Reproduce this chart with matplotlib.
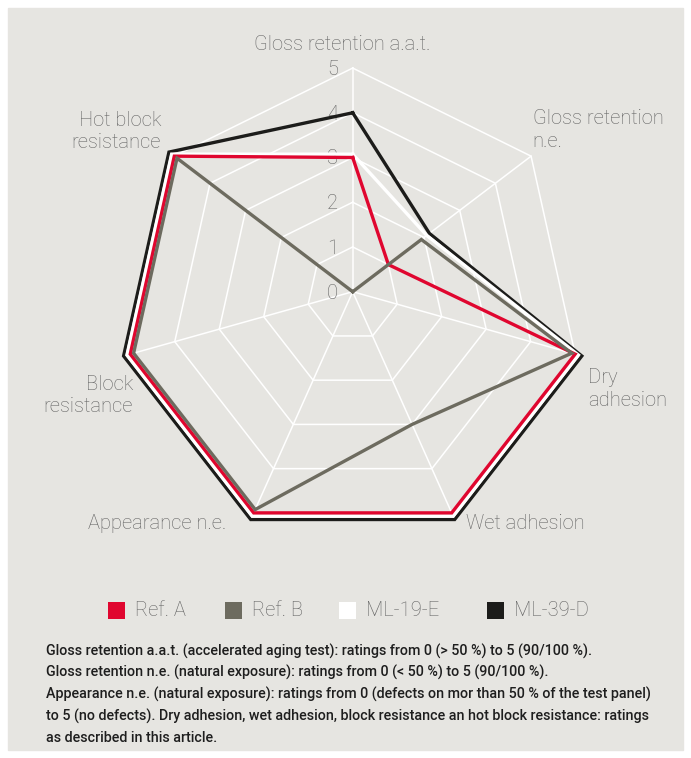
import matplotlib
matplotlib.use("Agg")
import matplotlib.pyplot as plt
import numpy as np
from matplotlib.patches import Rectangle

# --- data ---------------------------------------------------------------
categories = ["Gloss retention a.a.t.", "Gloss retention\nn.e.", "Dry\nadhesion",
              "Wet adhesion", "Appearance n.e.", "Block\nresistance",
              "Hot block\nresistance"]
series_names = ["Ref. A", "Ref. B", "ML-19-E", "ML-39-D"]
ref_a = [3, 1, 5, 5, 5, 5, 5]
ref_b = [0, 2, 5, 3, 5, 5, 5]
ml_19_e = [3, 2, 5, 5, 5, 5, 5]
ml_39_d = [4, 2, 5, 5, 5, 5, 5]
rating_ticks = [0, 1, 2, 3, 4, 5]
notes = [
    "Gloss retention a.a.t. (accelerated aging test): ratings from 0 (> 50 %) to 5 (90/100 %).",
    "Gloss retention n.e. (natural exposure): ratings from 0 (< 50 %) to 5 (90/100 %).",
    "Appearance n.e. (natural exposure): ratings from 0 (defects on mor than 50 % of the test panel)",
    "to 5 (no defects). Dry adhesion, wet adhesion, block resistance an hot block resistance: ratings",
    "as described in this article.",
]

# --- style --------------------------------------------------------------
BG = "#e6e5e1"
LABEL = "#626262"
colors = {"Ref. A": "#e0062f", "Ref. B": "#6d6b5f", "ML-19-E": "#ffffff", "ML-39-D": "#1c1c1a"}
# small radial shift so outlines that share a value sit side by side
shift = {"Ref. A": 0.0, "Ref. B": -0.075, "ML-19-E": 0.075, "ML-39-D": 0.15}
draw_order = ["ML-39-D", "ML-19-E", "Ref. A", "Ref. B"]
values = dict(zip(series_names, [ref_a, ref_b, ml_19_e, ml_39_d]))
light = dict(family="Roboto", weight="light", color=LABEL)
FS = 14.5

W, H = 691, 758
fig = plt.figure(figsize=(W / 100, H / 100), dpi=100, facecolor="white")
fig.patches.append(Rectangle((8 / W, 8 / H), (W - 16) / W, (H - 16) / H,
                             transform=fig.transFigure, color=BG, zorder=-5))

# radar axes: 1 rating unit = 45 px, spoke origin at (352.7, 291.7) px
ox, oy, s = 352.7, 291.7, 45.0
x0, x1, y0, y1 = 20, 680, 20, 570
ax = fig.add_axes([x0 / W, 1 - y1 / H, (x1 - x0) / W, (y1 - y0) / H], zorder=1)
ax.set_xlim((x0 - ox) / s, (x1 - ox) / s)
ax.set_ylim((oy - y1) / s, (oy - y0) / s)
ax.axis("off")

n = len(categories)
theta = 2 * np.pi * np.arange(n) / n
# the grid is a slightly stretched heptagon whose centre sits below the spoke origin
outer = np.c_[5.07 * np.sin(theta), -0.23 + 5.2 * np.cos(theta)]
table = np.array([values[k] for k in series_names], dtype=float)


def to_xy(vals, off=0.0):
    v = np.asarray(vals, dtype=float)
    shared = (table == v).sum(axis=0) > 1
    r = np.where((v > 0) & shared, v + off, v) / 5.0
    pts = outer * r[:, None]
    return np.vstack([pts, pts[:1]])


for k in rating_ticks[1:]:
    ring = np.vstack([outer, outer[:1]]) * k / 5
    ax.plot(ring[:, 0], ring[:, 1], color="white", lw=1.1, zorder=1)
for px, py in outer:
    ax.plot([0, px], [0, py], color="white", lw=1.1, zorder=1)

for k in rating_ticks:
    ax.text(-0.33, outer[0, 1] * k / 5 - 0.03, str(k), ha="right", va="center",
            fontsize=FS, zorder=2, **light)

for z, name in enumerate(draw_order):
    pts = to_xy(values[name], shift[name])
    ax.plot(pts[:, 0], pts[:, 1], color=colors[name], lw=2.4,
            solid_joinstyle="miter", zorder=3 + z)

label_pos = [(-0.24, 5.50, "center"), (4.0, 3.59, "left"), (5.23, -2.16, "left"),
             (2.52, -5.16, "left"), (-2.82, -5.16, "right"), (-4.88, -2.31, "right"),
             (-4.26, 3.56, "right")]
for cat, (lx, ly, ha) in zip(categories, label_pos):
    ax.text(lx, ly, cat, ha=ha, va="center", fontsize=FS, linespacing=1.22, **light)

# legend
sq_x = [108, 225, 339, 487]
for name, lx in zip(series_names, sq_x):
    fig.patches.append(Rectangle((lx / W, 1 - 619 / H), 17 / W, 17 / H,
                                 transform=fig.transFigure, facecolor=colors[name],
                                 edgecolor="none", zorder=2))
    fig.text((lx + 27) / W, 1 - 610 / H, name, ha="left", va="center",
             fontsize=FS, **light)

# notes
for i, line in enumerate(notes):
    fig.text(46 / W, 1 - (651 + 21.7 * i) / H, line, ha="left", va="center",
             fontsize=10.3, family="Roboto", weight="medium", color="#1e1e1e")

fig.savefig("out.png", dpi=100, facecolor=fig.get_facecolor())
